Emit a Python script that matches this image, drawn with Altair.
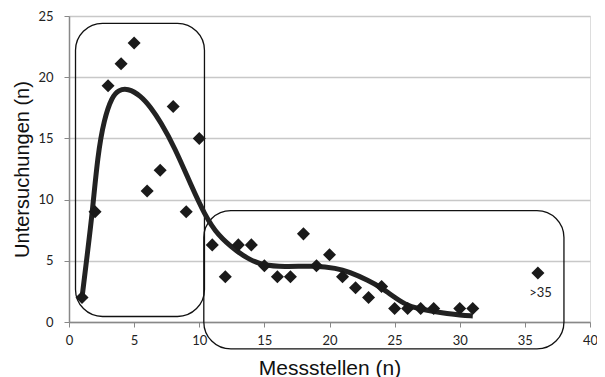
import altair as alt
import pandas as pd

# scatter data (Messstellen vs Untersuchungen)
pt_x = [1, 2, 3, 4, 5, 6, 7, 8, 9, 10, 11, 12, 13, 14, 15, 16, 17, 18, 19, 20,
        21, 22, 23, 24, 25, 26, 27, 28, 30, 31, 36]
pt_y = [2, 9, 19.3, 21.1, 22.8, 10.7, 12.4, 17.6, 9, 15, 6.3, 3.7, 6.3, 6.3, 4.6,
        3.7, 3.7, 7.2, 4.6, 5.5, 3.7, 2.8, 2, 2.9, 1.1, 1.1, 1.1, 1.1, 1.1, 1.1, 4]

# smooth trend curve
cv_x = [1, 1.4, 1.8, 2.2, 2.7, 3.3, 3.8, 4.5, 5.5, 6.3, 7.0, 8.1, 9.4, 10.4,
        11.4, 12.9, 13.9, 14.9, 16.4, 19, 20.5, 21.5, 23, 24, 25, 26, 27.3, 28.6,
        30.1, 31]
cv_y = [2, 5.5, 9.0, 13.6, 16.6, 18.4, 18.95, 19.1, 18.5, 17.5, 16.4, 14.3, 11.1, 8.8,
        7.1, 5.75, 5.07, 4.66, 4.5, 4.6, 4.4, 4.1, 3.4, 2.8, 2.0, 1.3, 0.98, 0.76,
        0.55, 0.5]

# highlight boxes (data coordinates)
box_x1 = [0.5, 10.35]
box_x2 = [10.4, 38.0]
box_y1 = [0.45, -2.2]
box_y2 = [24.4, 9.1]

# annotation
ann_x = [36.2]
ann_y = [2.4]
ann_text = [">35"]

x_ticks = [0, 5, 10, 15, 20, 25, 30, 35, 40]
y_ticks = [0, 5, 10, 15, 20, 25]

pts = pd.DataFrame({"x": pt_x, "y": pt_y})
curve = pd.DataFrame({"x": cv_x, "y": cv_y})
boxes = pd.DataFrame({"x": box_x1, "x2": box_x2, "y": box_y1, "y2": box_y2})
ann = pd.DataFrame({"x": ann_x, "y": ann_y, "t": ann_text})

xs = alt.Scale(domain=[0, 40], nice=False)
ys = alt.Scale(domain=[0, 25], nice=False)

xax = alt.Axis(values=x_ticks, title="Messstellen  (n)", grid=False, labelFlush=False,
               labelFont="Lato", labelFontSize=13, labelColor="#222",
               titleFont="Liberation Sans", titleFontSize=21, titleFontWeight="normal",
               titleColor="#111", titlePadding=10, domainColor="#888", domainWidth=1.5,
               tickColor="#888", tickSize=5, labelPadding=7)
yax = alt.Axis(values=y_ticks, title="Untersuchungen  (n)", grid=True, labelFlush=False,
               gridColor="#c8c8c8", gridWidth=1.5,
               labelFont="Lato", labelFontSize=13, labelColor="#222",
               titleFont="Liberation Sans", titleFontSize=20, titleFontWeight="normal",
               titleColor="#111", titlePadding=5, domainColor="#888", domainWidth=1.5,
               tickColor="#888", tickSize=5, labelPadding=11)

base_x = alt.X("x:Q", scale=xs, axis=xax)
base_y = alt.Y("y:Q", scale=ys, axis=yax)

box_layer = alt.Chart(boxes).mark_rect(
    fill=None, fillOpacity=0, stroke="#111", strokeWidth=1.3, cornerRadius=27, clip=False
).encode(x=alt.X("x:Q", scale=xs), x2="x2:Q", y=alt.Y("y:Q", scale=ys), y2="y2:Q")

line_layer = alt.Chart(curve).mark_line(
    color="#222", strokeWidth=5, interpolate="basis"
).encode(x=base_x, y=base_y)

pt_layer = alt.Chart(pts).mark_point(
    shape="diamond", filled=True, color="#1a1a1a", opacity=1, size=170
).encode(x=base_x, y=base_y)

txt_layer = alt.Chart(ann).mark_text(
    font="Lato", fontSize=13, color="#222", align="center", baseline="middle"
).encode(x=alt.X("x:Q", scale=xs), y=alt.Y("y:Q", scale=ys), text="t:N")

chart = alt.layer(box_layer, line_layer, pt_layer, txt_layer).properties(
    width=521, height=306,
    autosize=alt.AutoSizeParams(type="none"),
    padding={"left": 61, "top": 8, "right": 7, "bottom": 60},
).configure_view(fill="#ebebeb", stroke="#999", strokeWidth=1.5).configure(background="white")

chart.save("out.html", embed_options={"renderer": "svg", "actions": False})
